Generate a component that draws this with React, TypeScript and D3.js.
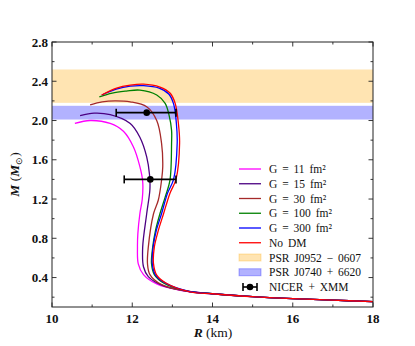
import React from 'react';
import * as d3 from 'd3';

// ---- data ----
const xTicks = [10, 12, 14, 16, 18];
const xMinor = [11, 13, 15, 17];
const yTicks = [0.4, 0.8, 1.2, 1.6, 2.0, 2.4, 2.8];
const yMinor = [0.2, 0.6, 1.0, 1.4, 1.8, 2.2, 2.6];

const tailR = [14.0, 15.0, 16.0, 17.0, 18.0];
const tailM = [0.235, 0.205, 0.185, 0.17, 0.155];

const rG11 = [10.57, 10.95, 11.45, 11.78, 12.03, 12.19, 12.26, 12.25, 12.19, 12.14, 12.13, 12.15, 12.28, 12.61, 13.2];
const mG11 = [1.97, 2.0, 1.97, 1.89, 1.73, 1.53, 1.38, 1.2, 1.05, 0.85, 0.71, 0.54, 0.43, 0.335, 0.27];

const rG15 = [10.7, 11.05, 11.45, 11.95, 12.19, 12.36, 12.43, 12.44, 12.36, 12.26, 12.28, 12.4, 12.78, 13.25];
const mG15 = [2.05, 2.075, 2.06, 1.97, 1.83, 1.63, 1.45, 1.3, 1.05, 0.71, 0.51, 0.41, 0.315, 0.27];

const rG30 = [10.95, 11.25, 11.57, 11.95, 12.36, 12.61, 12.73, 12.76, 12.73, 12.65, 12.53, 12.4, 12.38, 12.44, 12.72, 13.3];
const mG30 = [2.16, 2.19, 2.2, 2.19, 2.14, 2.0, 1.77, 1.53, 1.39, 1.19, 1.05, 0.71, 0.54, 0.43, 0.33, 0.265];

const rG100 = [11.18, 11.5, 11.85, 12.19, 12.61, 12.82, 12.92, 12.98, 12.98, 12.94, 12.82, 12.69, 12.58, 12.51, 12.48, 12.55, 12.8, 13.4];
const mG100 = [2.24, 2.28, 2.3, 2.31, 2.26, 2.175, 2.05, 1.9, 1.77, 1.39, 1.22, 1.05, 0.88, 0.71, 0.54, 0.43, 0.34, 0.26];

const rG300 = [11.24, 11.6, 11.95, 12.28, 12.67, 12.91, 13.03, 13.1, 13.12, 13.03, 12.88, 12.73, 12.6, 12.52, 12.5, 12.58, 12.84, 13.42];
const mG300 = [2.26, 2.32, 2.35, 2.355, 2.33, 2.27, 2.17, 1.97, 1.77, 1.4, 1.26, 1.05, 0.88, 0.71, 0.54, 0.425, 0.34, 0.258];

const rNoDM = [11.24, 11.61, 11.95, 12.28, 12.69, 12.94, 13.07, 13.15, 13.18, 13.09, 12.94, 12.78, 12.65, 12.55, 12.53, 12.61, 12.86, 13.44];
const mNoDM = [2.26, 2.33, 2.36, 2.37, 2.34, 2.28, 2.175, 1.97, 1.77, 1.4, 1.26, 1.05, 0.88, 0.71, 0.54, 0.425, 0.34, 0.255];

const seriesNames = ['G = 11 fm²', 'G = 15 fm²', 'G = 30 fm²', 'G = 100 fm²', 'G = 300 fm²', 'No DM'];
const seriesColors = ['#ff00ff', '#4b0082', '#a52a2a', '#008000', '#0000ff', '#ff0000'];
const seriesR = [rG11, rG15, rG30, rG100, rG300, rNoDM];
const seriesM = [mG11, mG15, mG30, mG100, mG300, mNoDM];

const bandNames = ['PSR J0952 − 0607', 'PSR J0740 + 6620'];
const bandLow = [2.18, 2.01];
const bandHigh = [2.52, 2.15];
const bandColors = ['#ffa500', '#0000ff'];

const obsR = [12.36, 12.45];
const obsM = [2.08, 1.4];
const obsRLow = [11.6, 11.8];
const obsRHigh = [13.09, 13.09];
const obsName = 'NICER + XMM';

export default function App() {
  const W = 415, H = 346;
  const L = 52, R = 373, T = 42, B = 307;
  const x = d3.scaleLinear().domain([10, 18]).range([L, R]);
  const y = d3.scaleLinear().domain([0.1, 2.8]).range([B, T]);
  const line = d3.line<[number, number]>()
    .x(d => x(d[0]))
    .y(d => y(d[1]))
    .curve(d3.curveCatmullRom.alpha(0.5));

  const font = '"Liberation Serif", "Times New Roman", serif';
  const legX0 = 239, legX1 = 261, legText = 269, legY0 = 169, legDy = 14.75;

  const legendRows = [
    ...seriesNames.map((n, i) => ({ kind: 'line', name: n, color: seriesColors[i] })),
    ...bandNames.map((n, i) => ({ kind: 'band', name: n, color: bandColors[i] })),
    { kind: 'err', name: obsName, color: '#000' },
  ];

  return (
    <svg width={W} height={H} style={{ position: 'absolute', left: 0, top: 0, background: '#fff' }}>
      <defs>
        <clipPath id="plotclip">
          <rect x={L} y={T} width={R - L} height={B - T} />
        </clipPath>
      </defs>
      <rect x={0} y={0} width={W} height={H} fill="#fff" />
      <g clipPath="url(#plotclip)">
        {bandNames.map((n, i) => (
          <rect key={n} x={L} width={R - L} y={y(bandHigh[i])} height={y(bandLow[i]) - y(bandHigh[i])}
            fill={bandColors[i]} fillOpacity={0.3} />
        ))}
        {seriesNames.map((n, i) => {
          const pts: [number, number][] = seriesR[i].map((r, j) => [r, seriesM[i][j]] as [number, number])
            .concat(tailR.map((r, j) => [r, tailM[j]] as [number, number]));
          return <path key={n} d={line(pts) || ''} fill="none" stroke={seriesColors[i]} strokeWidth={1.3} />;
        })}
        {obsR.map((r, i) => (
          <g key={i} stroke="#000" strokeWidth={1.6}>
            <line x1={x(obsRLow[i])} x2={x(obsRHigh[i])} y1={y(obsM[i])} y2={y(obsM[i])} />
            <line x1={x(obsRLow[i])} x2={x(obsRLow[i])} y1={y(obsM[i]) - 4} y2={y(obsM[i]) + 4} />
            <line x1={x(obsRHigh[i])} x2={x(obsRHigh[i])} y1={y(obsM[i]) - 4} y2={y(obsM[i]) + 4} />
            <circle cx={x(r)} cy={y(obsM[i])} r={3.3} fill="#000" stroke="none" />
          </g>
        ))}
      </g>

      {/* frame */}
      <rect x={L} y={T} width={R - L} height={B - T} fill="none" stroke="#222" strokeWidth={1} />

      {/* ticks */}
      <g stroke="#222" strokeWidth={0.9}>
        {xTicks.map(t => (
          <g key={'xt' + t}>
            <line x1={x(t)} x2={x(t)} y1={B} y2={B - 4.5} />
            <line x1={x(t)} x2={x(t)} y1={T} y2={T + 4.5} />
          </g>
        ))}
        {xMinor.map(t => (
          <g key={'xm' + t}>
            <line x1={x(t)} x2={x(t)} y1={B} y2={B - 2.5} />
            <line x1={x(t)} x2={x(t)} y1={T} y2={T + 2.5} />
          </g>
        ))}
        {yTicks.map(t => (
          <g key={'yt' + t}>
            <line x1={L} x2={L + 4.5} y1={y(t)} y2={y(t)} />
            <line x1={R} x2={R - 4.5} y1={y(t)} y2={y(t)} />
          </g>
        ))}
        {yMinor.map(t => (
          <g key={'ym' + t}>
            <line x1={L} x2={L + 2.5} y1={y(t)} y2={y(t)} />
            <line x1={R} x2={R - 2.5} y1={y(t)} y2={y(t)} />
          </g>
        ))}
      </g>

      {/* tick labels */}
      <g fontFamily={font} fontSize={13} fontWeight="bold" fill="#111">
        {xTicks.map(t => (
          <text key={'xl' + t} x={x(t)} y={B + 16} textAnchor="middle">{t}</text>
        ))}
        {yTicks.map(t => (
          <text key={'yl' + t} x={L - 4} y={y(t) + 4.5} textAnchor="end">{t.toFixed(1)}</text>
        ))}
      </g>

      {/* axis titles */}
      <text x={213} y={337} textAnchor="middle" fontFamily={font} fontSize={13.5} fill="#111">
        <tspan fontStyle="italic" fontWeight="bold">R</tspan>
        <tspan> (km)</tspan>
      </text>
      <text transform={`translate(19,${(T + B) / 2}) rotate(-90)`} textAnchor="middle" fontFamily={font} fontSize={13.5} fill="#111">
        <tspan fontStyle="italic" fontWeight="bold">M</tspan>
        <tspan> (</tspan>
        <tspan fontStyle="italic" fontWeight="bold">M</tspan>
        <tspan fontSize={9} dy={3}>⊙</tspan>
        <tspan dy={-3}>)</tspan>
      </text>

      {/* legend */}
      <g fontFamily={font} fontSize={11.5} fill="#111">
        {legendRows.map((row, i) => {
          const cy = legY0 + i * legDy;
          return (
            <g key={row.name}>
              {row.kind === 'line' && (
                <line x1={legX0} x2={legX1} y1={cy} y2={cy} stroke={row.color} strokeWidth={1.3} />
              )}
              {row.kind === 'band' && (
                <rect x={legX0} y={cy - 3.5} width={legX1 - legX0} height={7} fill={row.color} fillOpacity={0.3}
                  stroke={row.color} strokeOpacity={0.3} strokeWidth={1} />
              )}
              {row.kind === 'err' && (
                <g stroke="#000" strokeWidth={1.6}>
                  <line x1={legX0 + 4} x2={legX1 - 4} y1={cy} y2={cy} />
                  <line x1={legX0 + 4} x2={legX0 + 4} y1={cy - 4} y2={cy + 4} />
                  <line x1={legX1 - 4} x2={legX1 - 4} y1={cy - 4} y2={cy + 4} />
                  <circle cx={(legX0 + legX1) / 2} cy={cy} r={3.3} fill="#000" stroke="none" />
                </g>
              )}
              <text x={legText} y={cy + 4} wordSpacing={2}>{row.name}</text>
            </g>
          );
        })}
      </g>
    </svg>
  );
}
